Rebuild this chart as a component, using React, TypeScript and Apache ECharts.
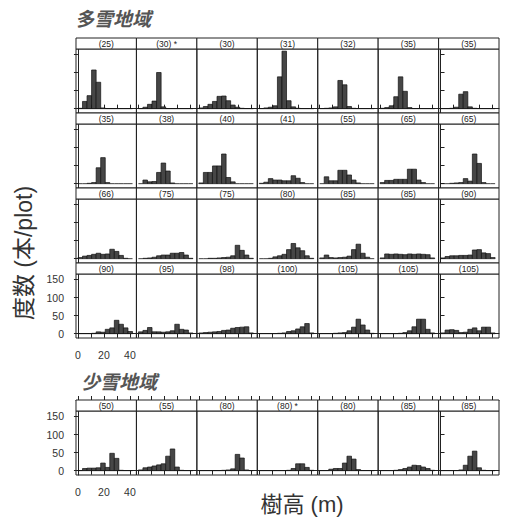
import React, { useEffect, useRef } from "react";
import * as echarts from "echarts";

// Histogram bin edges (tree height, m)
const binEdges = [0, 3.5, 7, 10.5, 14, 17.5, 21, 24.5, 28, 31.5, 35, 38.5, 42];
const xTicks = [0, 10, 20, 30, 40];
const xTickLabels = [0, 20, 40];
const yTicks = [0, 50, 100, 150];

// 多雪地域 (heavy snow region), strip labels per row
const heavyLabelsRow1 = ["(25)", "(30) *", "(30)", "(31)", "(32)", "(35)", "(35)"];
const heavyLabelsRow2 = ["(35)", "(38)", "(40)", "(41)", "(55)", "(65)", "(65)"];
const heavyLabelsRow3 = ["(66)", "(75)", "(75)", "(80)", "(85)", "(85)", "(90)"];
const heavyLabelsRow4 = ["(90)", "(95)", "(98)", "(100)", "(105)", "(105)", "(105)"];

// counts per bin (本/plot)
const heavyCountsRow1 = [
  [1, 20, 36, 107, 73, 2, 0, 0, 0, 0, 0, 0],
  [0, 4, 12, 21, 100, 5, 0, 0, 0, 0, 0, 0],
  [2, 6, 12, 20, 34, 35, 22, 10, 4, 1, 0, 0],
  [0, 2, 4, 8, 88, 159, 22, 5, 1, 0, 0, 0],
  [0, 1, 2, 5, 78, 66, 6, 1, 0, 0, 0, 0],
  [1, 3, 8, 33, 88, 48, 3, 0, 0, 0, 0, 0],
  [0, 0, 1, 4, 40, 47, 5, 1, 0, 0, 0, 0],
];
const heavyCountsRow2 = [
  [0, 0, 1, 3, 44, 72, 3, 0, 0, 0, 0, 0],
  [0, 10, 5, 6, 31, 57, 35, 2, 0, 0, 0, 0],
  [2, 31, 31, 49, 49, 82, 17, 5, 0, 0, 0, 0],
  [1, 4, 14, 10, 10, 8, 8, 22, 15, 3, 0, 0],
  [0, 19, 8, 8, 37, 37, 24, 10, 2, 0, 0, 0],
  [3, 9, 9, 12, 12, 12, 40, 40, 10, 3, 0, 0],
  [0, 0, 1, 2, 3, 14, 7, 82, 56, 3, 0, 0],
];
const heavyCountsRow3 = [
  [3, 7, 9, 12, 15, 12, 13, 26, 20, 9, 1, 0],
  [0, 1, 2, 4, 8, 10, 10, 15, 15, 17, 10, 1],
  [0, 0, 1, 1, 2, 3, 4, 8, 37, 23, 10, 1],
  [0, 0, 1, 5, 8, 12, 25, 42, 30, 22, 8, 1],
  [2, 10, 3, 2, 3, 4, 7, 25, 40, 15, 4, 0],
  [2, 13, 12, 13, 12, 11, 13, 12, 13, 12, 11, 2],
  [2, 6, 8, 8, 9, 9, 10, 24, 25, 16, 14, 3],
];
const heavyCountsRow4 = [
  [0, 0, 0, 1, 5, 4, 12, 16, 37, 26, 16, 6],
  [5, 9, 17, 5, 5, 4, 5, 8, 26, 12, 10, 2],
  [2, 3, 4, 5, 6, 9, 10, 15, 17, 18, 19, 2],
  [0, 0, 0, 0, 1, 2, 6, 8, 13, 19, 28, 2],
  [0, 0, 0, 1, 2, 3, 8, 18, 40, 24, 10, 1],
  [0, 0, 0, 0, 1, 3, 8, 19, 40, 40, 12, 2],
  [2, 10, 11, 9, 3, 4, 12, 16, 8, 18, 18, 2],
];

// 少雪地域 (light snow region)
const lightLabels = ["(50)", "(55)", "(80)", "(80) *", "(80)", "(85)", "(85)"];
const lightCounts = [
  [0, 6, 7, 7, 8, 21, 9, 48, 34, 1, 0, 0],
  [2, 8, 10, 13, 16, 19, 40, 60, 10, 1, 0, 0],
  [0, 0, 0, 0, 0, 1, 2, 5, 45, 35, 2, 0],
  [0, 0, 0, 0, 0, 0, 1, 6, 19, 19, 9, 1],
  [0, 0, 4, 6, 6, 21, 40, 32, 3, 0, 0, 0],
  [0, 0, 0, 1, 3, 6, 10, 15, 14, 10, 6, 1],
  [0, 0, 0, 0, 2, 15, 40, 54, 8, 1, 0, 0],
];

// ---- layout ----
const COL_LEFT = 76;
const COL_W = 60.43;
const STRIP_H = 11;
const PLOT_H = 64;
const ROW_STEP = 75;
const HEAVY_TOP = 38;
const LIGHT_TOP = 400;
const X_MIN = -1.5;
const X_MAX = 45;
const Y_MIN = -12;
const Y_MAX = 165;
const LINE = "#222";
const TEXT = "#333";
const LATIN = '"Liberation Sans", Arial, sans-serif';
const MIXED = '"Liberation Sans", "Noto Sans CJK JP", sans-serif';

function buildOption() {
  const grids: any[] = [];
  const xAxes: any[] = [];
  const yAxes: any[] = [];
  const series: any[] = [];
  const graphics: any[] = [];

  const groups = [
    {
      top: HEAVY_TOP,
      rows: [
        { labels: heavyLabelsRow1, counts: heavyCountsRow1 },
        { labels: heavyLabelsRow2, counts: heavyCountsRow2 },
        { labels: heavyLabelsRow3, counts: heavyCountsRow3 },
        { labels: heavyLabelsRow4, counts: heavyCountsRow4 },
      ],
    },
    { top: LIGHT_TOP, rows: [{ labels: lightLabels, counts: lightCounts }] },
  ];

  const renderItem = (params: any, api: any) => {
    const x0 = api.value(0);
    const x1 = api.value(1);
    const c = api.value(2);
    const p0 = api.coord([x0, c]);
    const p1 = api.coord([x1, 0]);
    if (!c) {
      return {
        type: "line",
        shape: { x1: p0[0], y1: p1[1], x2: p1[0], y2: p1[1] },
        style: { stroke: "#111", lineWidth: 0.8 },
      };
    }
    return {
      type: "rect",
      shape: { x: p0[0], y: p0[1], width: p1[0] - p0[0], height: p1[1] - p0[1] },
      style: { fill: "#464646", stroke: "#111", lineWidth: 0.7 },
    };
  };

  groups.forEach((g) => {
    const nRows = g.rows.length;
    g.rows.forEach((row, r) => {
      const stripTop = g.top + r * ROW_STEP;
      const isTop = r === 0;
      const isBottom = r === nRows - 1;
      row.counts.forEach((counts, c) => {
        const left = COL_LEFT + c * COL_W;
        const gi = grids.length;
        grids.push({
          left,
          top: stripTop + STRIP_H,
          width: COL_W,
          height: PLOT_H,
          show: true,
          borderColor: LINE,
          borderWidth: 1,
          backgroundColor: "transparent",
        });
        const xi = xAxes.length;
        xAxes.push({
          gridIndex: gi,
          type: "value",
          min: X_MIN,
          max: X_MAX,
          position: isBottom ? "bottom" : "top",
          offset: isBottom ? 0 : STRIP_H,
          axisLine: { show: isTop || isBottom, lineStyle: { color: LINE, width: 1 } },
          axisTick: {
            show: isTop || isBottom,
            customValues: xTicks,
            length: 4,
            lineStyle: { color: LINE, width: 1 },
          },
          axisLabel: {
            show: isBottom && c === 0,
            customValues: xTickLabels,
            margin: 11,
            fontSize: 10.5,
            color: TEXT,
            fontFamily: LATIN,
          },
          splitLine: { show: false },
        });
        if (isTop && isBottom) {
          xAxes.push({
            gridIndex: gi,
            type: "value",
            min: X_MIN,
            max: X_MAX,
            position: "top",
            offset: STRIP_H,
            axisLine: { show: true, lineStyle: { color: LINE, width: 1 } },
            axisTick: { show: true, customValues: xTicks, length: 4, lineStyle: { color: LINE, width: 1 } },
            axisLabel: { show: false },
            splitLine: { show: false },
          });
        }
        const edge = c === 0 || c === row.counts.length - 1;
        const yi = yAxes.length;
        yAxes.push({
          gridIndex: gi,
          type: "value",
          min: Y_MIN,
          max: Y_MAX,
          position: c === row.counts.length - 1 ? "right" : "left",
          axisLine: { show: edge, lineStyle: { color: LINE, width: 1 } },
          axisTick: { show: edge, customValues: yTicks, length: 4, lineStyle: { color: LINE, width: 1 } },
          axisLabel: {
            show: c === 0 && isBottom,
            customValues: yTicks,
            margin: 12,
            fontSize: 10.5,
            color: TEXT,
            fontFamily: LATIN,
          },
          splitLine: { show: false },
        });
        series.push({
          type: "custom",
          xAxisIndex: xi,
          yAxisIndex: yi,
          silent: true,
          clip: false,
          encode: { x: [0, 1], y: 2 },
          data: counts.map((v, i) => [binEdges[i], binEdges[i + 1], v]),
          renderItem,
        });
        graphics.push({
          type: "rect",
          z: 10,
          shape: { x: left, y: stripTop, width: COL_W, height: STRIP_H },
          style: { fill: "#fff", stroke: LINE, lineWidth: 1 },
        });
        graphics.push({
          type: "text",
          z: 11,
          x: left + COL_W / 2,
          y: stripTop + STRIP_H / 2 + 0.5,
          style: {
            text: row.labels[c],
            fontSize: 8.5,
            fill: "#222",
            textAlign: "center",
            textVerticalAlign: "middle",
            fontFamily: '"Liberation Sans Narrow", "Liberation Sans", sans-serif',
          },
        });
      });
    });
  });

  graphics.push({
    type: "text",
    x: 113,
    y: 17,
    style: {
      text: "多雪地域",
      fontSize: 19,
      fontStyle: "italic",
      fontWeight: "bold",
      fill: "#555",
      textAlign: "center",
      textVerticalAlign: "middle",
      fontFamily: '"Noto Sans CJK JP", sans-serif',
    },
  });
  graphics.push({
    type: "text",
    x: 119,
    y: 380,
    style: {
      text: "少雪地域",
      fontSize: 19,
      fontStyle: "italic",
      fontWeight: "bold",
      fill: "#555",
      textAlign: "center",
      textVerticalAlign: "middle",
      fontFamily: '"Noto Sans CJK JP", sans-serif',
    },
  });
  graphics.push({
    type: "text",
    x: 24,
    y: 253,
    rotation: Math.PI / 2,
    style: {
      text: "度数 (本/plot)",
      fontSize: 23,
      fill: TEXT,
      textAlign: "center",
      textVerticalAlign: "middle",
      fontFamily: MIXED,
    },
  });
  graphics.push({
    type: "text",
    x: 302,
    y: 504,
    style: {
      text: "樹高 (m)",
      fontSize: 22,
      fill: TEXT,
      textAlign: "center",
      textVerticalAlign: "middle",
      fontFamily: MIXED,
    },
  });

  return {
    animation: false,
    backgroundColor: "#fff",
    grid: grids,
    xAxis: xAxes,
    yAxis: yAxes,
    series,
    graphic: graphics,
  };
}

export default function App() {
  const ref = useRef<HTMLDivElement>(null);
  useEffect(() => {
    if (!ref.current) return;
    const chart = echarts.init(ref.current, undefined, { renderer: "svg" });
    chart.setOption(buildOption() as any);
    return () => chart.dispose();
  }, []);
  return (
    <div
      ref={ref}
      style={{ position: "fixed", left: 0, top: 0, width: 505, height: 519, background: "#fff" }}
    />
  );
}
